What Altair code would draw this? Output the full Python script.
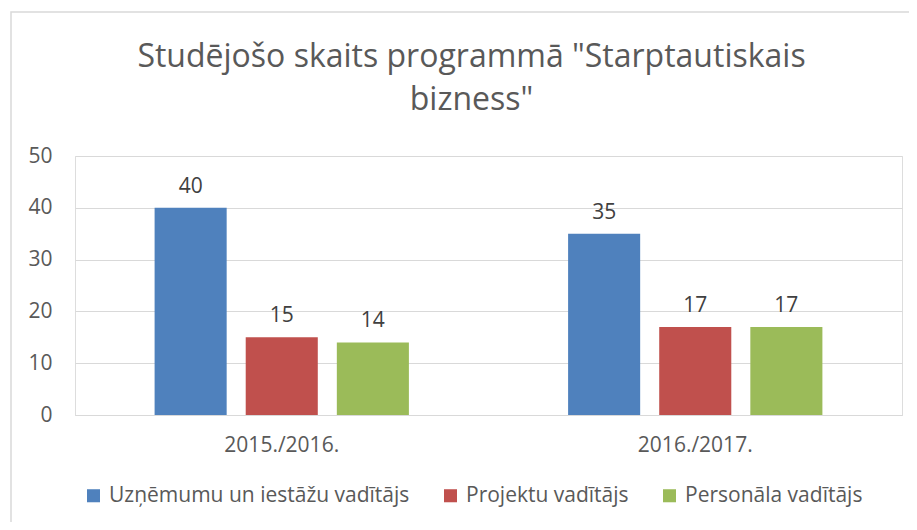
import altair as alt
import pandas as pd

years = ["2015./2016.", "2016./2017."]
series = ["Uzņēmumu un iestāžu vadītājs", "Projektu vadītājs", "Personāla vadītājs"]
colors = ["#4F81BD", "#C0504D", "#9BBB59"]
values = {
    "Uzņēmumu un iestāžu vadītājs": [40, 35],
    "Projektu vadītājs": [15, 17],
    "Personāla vadītājs": [14, 17],
}
title_lines = ["Studējošo skaits programmā \"Starptautiskais", "bizness\""]

rows = []
for s in series:
    for y, v in zip(years, values[s]):
        rows.append({"year": y, "series": s, "value": v})
df = pd.DataFrame(rows)

FONT = "Open Sans"
TXT = "#595959"
FS = 21

x_enc = alt.X("year:N", sort=years, title=None,
              scale=alt.Scale(paddingInner=0.385, paddingOuter=0.1925),
              axis=alt.Axis(labelAngle=0, ticks=False, domain=True, domainColor="#d9d9d9",
                            labelFontSize=FS, labelColor=TXT, labelFont=FONT, labelPadding=19))
xo_enc = alt.XOffset("series:N", sort=series,
                     scale=alt.Scale(paddingInner=0.209, paddingOuter=0))
y_enc = alt.Y("value:Q", title=None,
              scale=alt.Scale(domain=[0, 50]),
              axis=alt.Axis(values=[0, 10, 20, 30, 40, 50], domain=False, ticks=False,
                            gridColor="#d9d9d9", labelFontSize=FS, labelColor=TXT,
                            labelFont=FONT, labelPadding=23))

base = alt.Chart(df)
bars = base.mark_bar().encode(
    x=x_enc, xOffset=xo_enc, y=y_enc,
    color=alt.Color("series:N", sort=series, title=None,
                    scale=alt.Scale(domain=series, range=colors),
                    legend=alt.Legend(orient="none", legendX=8, legendY=329,
                                      direction="horizontal",
                                      symbolType="square", symbolSize=170,
                                      symbolStrokeWidth=0,
                                      labelFontSize=FS, labelColor=TXT, labelFont=FONT,
                                      columnPadding=30, labelOffset=5,
                                      labelLimit=400)),
)
labels = base.mark_text(baseline="bottom", dy=-11, fontSize=FS, font=FONT, color="#404040").encode(
    x=x_enc, xOffset=xo_enc, y=y_enc, text="value:Q",
)

border = alt.Chart(alt.Data(values=[{"a": 1}])).mark_rect(
    fill="transparent", stroke="#d9d9d9", strokeWidth=1.5, clip=False
).encode(
    x=alt.value(-64), x2=alt.value(900), y=alt.value(-144), y2=alt.value(500)
)

chart = alt.layer(border, bars, labels).properties(
    width=827, height=259,
    title=alt.TitleParams(text=title_lines, fontSize=32, font=FONT, fontWeight="normal",
                          color=TXT, anchor="middle", offset=36, lineHeight=43,
                          dx=-17, dy=142),
    padding={"left": 67, "top": 148, "right": 7, "bottom": 107},
    autosize=alt.AutoSizeParams(type="none"),
).configure_view(stroke=None).configure(background="white")

chart.save("out.html", embed_options={"renderer": "svg", "actions": False})
